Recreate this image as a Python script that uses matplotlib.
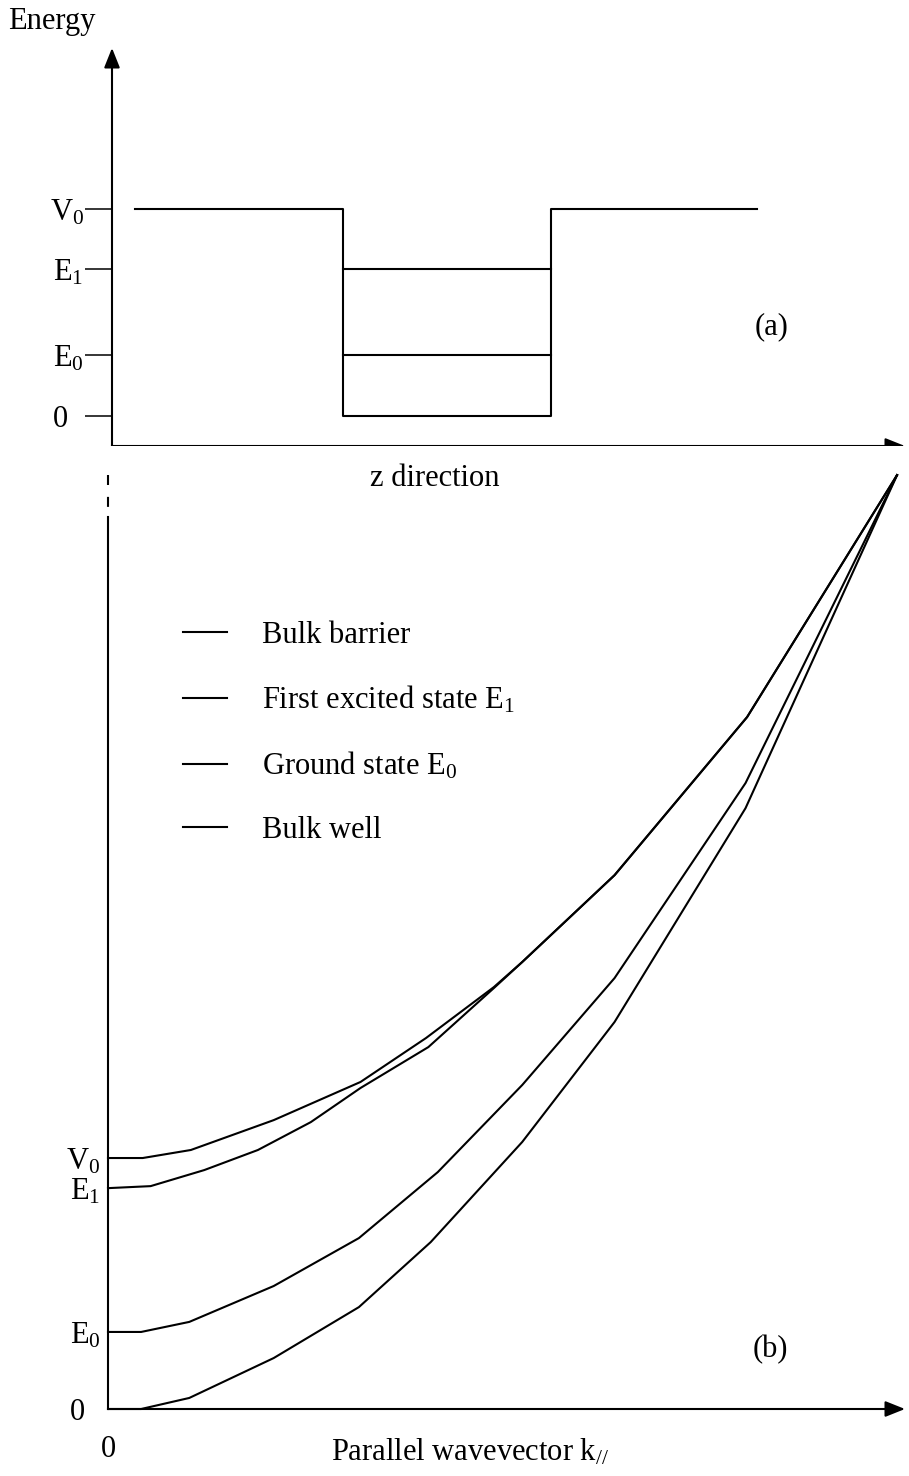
import matplotlib.pyplot as plt

plt.rcParams['font.family'] = 'Liberation Serif'
plt.rcParams['mathtext.fontset'] = 'custom'
plt.rcParams['mathtext.rm'] = 'Liberation Serif'
plt.rcParams['mathtext.it'] = 'Liberation Serif:italic'

W, H = 909, 1476
FS = 22

# (a) square well along z (z in units of the well width, energy in units of V0)
barrier_z = [0.11, 3.10]
well_z = [1.11, 2.11]
V0 = 1.0
E1_a = 0.71
E0_a = 0.295

# (b) in-plane dispersion, energy in units of V0
k_barrier = [0, 0.044, 0.105, 0.210, 0.320, 0.403, 0.489, 0.525, 0.642, 0.810, 1.0]
e_barrier = [1.0, 1.0, 1.032, 1.151, 1.303, 1.478, 1.681, 1.781, 2.127, 2.757, 3.721]
k_e1 = [0, 0.054, 0.122, 0.190, 0.257, 0.320, 0.406, 0.489, 0.525, 0.642, 0.810, 1.0]
e_e1 = [0.880, 0.888, 0.952, 1.032, 1.143, 1.279, 1.442, 1.677, 1.781, 2.127, 2.757, 3.721]
k_e0 = [0, 0.042, 0.103, 0.210, 0.318, 0.418, 0.525, 0.642, 0.808, 1.0]
e_e0 = [0.307, 0.307, 0.347, 0.490, 0.681, 0.944, 1.291, 1.717, 2.494, 3.721]
k_well = [0, 0.042, 0.103, 0.210, 0.318, 0.409, 0.525, 0.642, 0.808, 1.0]
e_well = [0, 0, 0.044, 0.203, 0.406, 0.665, 1.064, 1.542, 2.394, 3.721]

legend_labels = ['Bulk barrier', 'First excited state E$_1$',
                 'Ground state E$_0$', 'Bulk well']

arrow_kw = dict(arrowstyle='-|>,head_length=0.6,head_width=0.24',
                mutation_scale=20, color='black', lw=1.5,
                shrinkA=0, shrinkB=0)

fig = plt.figure(figsize=(W / 100, H / 100), dpi=100)

# ---------- (a) ----------
ax_a = fig.add_axes([112 / W, 1 - 446 / H, (905 - 112) / W, (446 - 48) / H])
xa_max, ya_min, ya_max = 3.81, -0.145, 1.778
ax_a.set_xlim(0, xa_max)
ax_a.set_ylim(ya_min, ya_max)
for s in ax_a.spines.values():
    s.set_visible(False)

ax_a.annotate('', xy=(0, ya_max), xytext=(0, ya_min), arrowprops=arrow_kw,
              annotation_clip=False)
ax_a.annotate('', xy=(xa_max, ya_min), xytext=(0, ya_min), arrowprops=arrow_kw,
              annotation_clip=False)
ax_a.plot([0, 0], [ya_min, -0.227], color='black', lw=1.5, clip_on=False)

profile_z = [barrier_z[0], well_z[0], well_z[0], well_z[1], well_z[1], barrier_z[1]]
profile_e = [V0, V0, 0, 0, V0, V0]
ax_a.plot(profile_z, profile_e, color='black', lw=1.5)
ax_a.plot(well_z, [E1_a, E1_a], color='black', lw=1.5)
ax_a.plot(well_z, [E0_a, E0_a], color='black', lw=1.5)

ax_a.set_xticks([])
ax_a.set_yticks([0, E0_a, E1_a, V0])
ax_a.set_yticklabels(['0  ', 'E$_0$', 'E$_1$', 'V$_0$'])
ax_a.tick_params(axis='y', length=19.4, width=1.1, pad=1, labelsize=FS)

# ---------- (b) ----------
ax_b = fig.add_axes([108 / W, 1 - 1409 / H, (905 - 108) / W, (1409 - 446) / H])
xb_max, yb_max = 1.0101, 3.837
ax_b.set_xlim(0, xb_max)
ax_b.set_ylim(0, yb_max)
for s in ax_b.spines.values():
    s.set_visible(False)

ax_b.annotate('', xy=(xb_max, 0), xytext=(0, 0), arrowprops=arrow_kw,
              annotation_clip=False)
ax_b.plot([0, 0], [0, 3.554], color='black', lw=1.5, clip_on=False)
# broken stretch of the energy axis between the two panels
ax_b.plot([0, 0], [3.721, 3.594], color='black', lw=1.5, clip_on=False,
          linestyle=(0, (4.8, 5.7)))

lines = []
for k, e in [(k_barrier, e_barrier), (k_e1, e_e1), (k_e0, e_e0), (k_well, e_well)]:
    ln, = ax_b.plot(k, e, color='black', lw=1.5, clip_on=False)
    lines.append(ln)

ax_b.set_yticks([0, e_e0[0], e_e1[0], e_barrier[0]])
ax_b.set_yticklabels(['0  ', 'E$_0$', 'E$_1$', 'V$_0$'])
ax_b.set_xticks([0])
ax_b.set_xticklabels(['0'])
ax_b.tick_params(axis='y', length=0, pad=5.5, labelsize=FS)
ax_b.tick_params(axis='x', length=0, pad=19, labelsize=FS)

ax_b.legend(lines, legend_labels, loc='upper left',
            bbox_to_anchor=(183 / W, 1 - 621 / H), bbox_transform=fig.transFigure,
            frameon=False, fontsize=FS, handlelength=1.44, handletextpad=1.14,
            labelspacing=1.12, borderpad=0, borderaxespad=0)

# ---------- text ----------
fig.text(8 / W, 1 - 22 / H, 'Energy', ha='left', va='center', fontsize=FS)
fig.text(772 / W, 1 - 327 / H, '(a)', ha='center', va='center', fontsize=FS)
fig.text(435 / W, 1 - 478 / H, 'z direction', ha='center', va='center', fontsize=FS)
fig.text(770 / W, 1 - 1350 / H, '(b)', ha='center', va='center', fontsize=FS)
fig.text(470 / W, 1 - 1452 / H, r'Parallel wavevector k$_{\mathit{//}}$',
         ha='center', va='center', fontsize=FS)

fig.savefig('out.png', dpi=100)
